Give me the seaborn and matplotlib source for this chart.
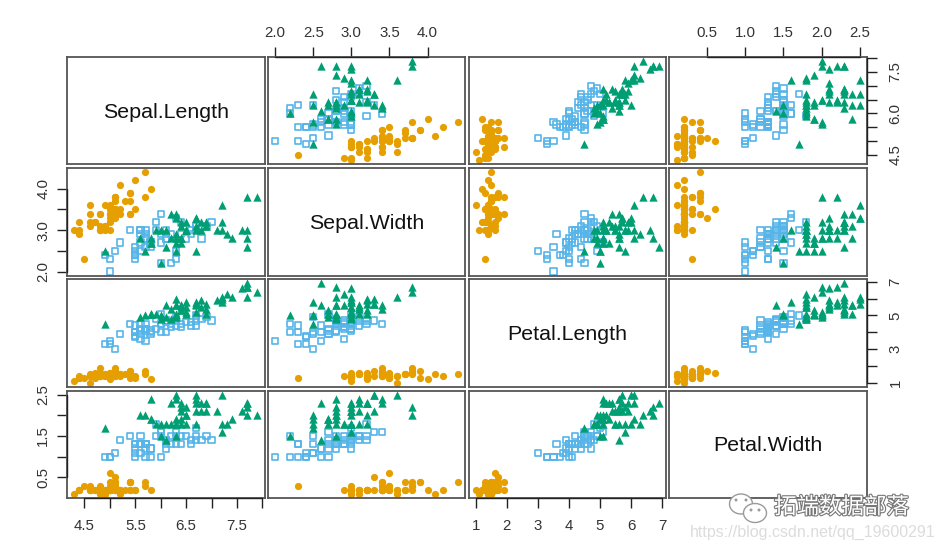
import matplotlib
matplotlib.use("Agg")
import matplotlib.pyplot as plt
import matplotlib.patheffects as pe
from matplotlib.patches import Ellipse
import pandas as pd
import seaborn as sns

# iris measurements, one list per variable and species
setosa_sl = [5.1,4.9,4.7,4.6,5.0,5.4,4.6,5.0,4.4,4.9,5.4,4.8,4.8,4.3,5.8,5.7,5.4,5.1,5.7,5.1,5.4,5.1,4.6,5.1,4.8,5.0,5.0,5.2,5.2,4.7,4.8,5.4,5.2,5.5,4.9,5.0,5.5,4.9,4.4,5.1,5.0,4.5,4.4,5.0,5.1,4.8,5.1,4.6,5.3,5.0]
setosa_sw = [3.5,3.0,3.2,3.1,3.6,3.9,3.4,3.4,2.9,3.1,3.7,3.4,3.0,3.0,4.0,4.4,3.9,3.5,3.8,3.8,3.4,3.7,3.6,3.3,3.4,3.0,3.4,3.5,3.4,3.2,3.1,3.4,4.1,4.2,3.1,3.2,3.5,3.6,3.0,3.4,3.5,2.3,3.2,3.5,3.8,3.0,3.8,3.2,3.7,3.3]
setosa_pl = [1.4,1.4,1.3,1.5,1.4,1.7,1.4,1.5,1.4,1.5,1.5,1.6,1.4,1.1,1.2,1.5,1.3,1.4,1.7,1.5,1.7,1.5,1.0,1.7,1.9,1.6,1.6,1.5,1.4,1.6,1.6,1.5,1.5,1.4,1.5,1.2,1.3,1.4,1.3,1.5,1.3,1.3,1.3,1.6,1.9,1.4,1.6,1.4,1.5,1.4]
setosa_pw = [.2,.2,.2,.2,.2,.4,.3,.2,.2,.1,.2,.2,.1,.1,.2,.4,.4,.3,.3,.3,.2,.4,.2,.5,.2,.2,.4,.2,.2,.2,.2,.4,.1,.2,.2,.2,.2,.1,.2,.2,.3,.3,.2,.6,.4,.3,.2,.2,.2,.2]

versicolor_sl = [7.0,6.4,6.9,5.5,6.5,5.7,6.3,4.9,6.6,5.2,5.0,5.9,6.0,6.1,5.6,6.7,5.6,5.8,6.2,5.6,5.9,6.1,6.3,6.1,6.4,6.6,6.8,6.7,6.0,5.7,5.5,5.5,5.8,6.0,5.4,6.0,6.7,6.3,5.6,5.5,5.5,6.1,5.8,5.0,5.6,5.7,5.7,6.2,5.1,5.7]
versicolor_sw = [3.2,3.2,3.1,2.3,2.8,2.8,3.3,2.4,2.9,2.7,2.0,3.0,2.2,2.9,2.9,3.1,3.0,2.7,2.2,2.5,3.2,2.8,2.5,2.8,2.9,3.0,2.8,3.0,2.9,2.6,2.4,2.4,2.7,2.7,3.0,3.4,3.1,2.3,3.0,2.5,2.6,3.0,2.6,2.3,2.7,3.0,2.9,2.9,2.5,2.8]
versicolor_pl = [4.7,4.5,4.9,4.0,4.6,4.5,4.7,3.3,4.6,3.9,3.5,4.2,4.0,4.7,3.6,4.4,4.5,4.1,4.5,3.9,4.8,4.0,4.9,4.7,4.3,4.4,4.8,5.0,4.5,3.5,3.8,3.7,3.9,5.1,4.5,4.5,4.7,4.4,4.1,4.0,4.4,4.6,4.0,3.3,4.2,4.2,4.2,4.3,3.0,4.1]
versicolor_pw = [1.4,1.5,1.5,1.3,1.5,1.3,1.6,1.0,1.3,1.4,1.0,1.5,1.0,1.4,1.3,1.4,1.5,1.0,1.5,1.1,1.8,1.3,1.5,1.2,1.3,1.4,1.4,1.7,1.5,1.0,1.1,1.0,1.2,1.6,1.5,1.6,1.5,1.3,1.3,1.3,1.2,1.4,1.2,1.0,1.3,1.2,1.3,1.3,1.1,1.3]

virginica_sl = [6.3,5.8,7.1,6.3,6.5,7.6,4.9,7.3,6.7,7.2,6.5,6.4,6.8,5.7,5.8,6.4,6.5,7.7,7.7,6.0,6.9,5.6,7.7,6.3,6.7,7.2,6.2,6.1,6.4,7.2,7.4,7.9,6.4,6.3,6.1,7.7,6.3,6.4,6.0,6.9,6.7,6.9,5.8,6.8,6.7,6.7,6.3,6.5,6.2,5.9]
virginica_sw = [3.3,2.7,3.0,2.9,3.0,3.0,2.5,2.9,2.5,3.6,3.2,2.7,3.0,2.5,2.8,3.2,3.0,3.8,2.6,2.2,3.2,2.8,2.8,2.7,3.3,3.2,2.8,3.0,2.8,3.0,2.8,3.8,2.8,2.8,2.6,3.0,3.4,3.1,3.0,3.1,3.1,3.1,2.7,3.2,3.3,3.0,2.5,3.0,3.4,3.0]
virginica_pl = [6.0,5.1,5.9,5.6,5.8,6.6,4.5,6.3,5.8,6.1,5.1,5.3,5.5,5.0,5.1,5.3,5.5,6.7,6.9,5.0,5.7,4.9,6.7,4.9,5.7,6.0,4.8,4.9,5.6,5.8,6.1,6.4,5.6,5.1,5.6,6.1,5.6,5.5,4.8,5.4,5.6,5.1,5.1,5.9,5.7,5.2,5.0,5.2,5.4,5.1]
virginica_pw = [2.5,1.9,2.1,1.8,2.2,2.1,1.7,1.8,1.8,2.5,2.0,1.9,2.1,2.0,2.4,2.3,1.8,2.2,2.3,1.5,2.3,2.0,2.0,1.8,2.1,1.8,1.8,1.8,2.1,1.6,1.9,2.0,2.2,1.5,1.4,2.3,2.4,1.8,1.8,2.1,2.4,2.3,1.9,2.3,2.5,2.3,1.9,2.0,2.3,1.8]

variables = ["Sepal.Length", "Sepal.Width", "Petal.Length", "Petal.Width"]
species = ["setosa", "versicolor", "virginica"]

# ticks for each variable, and the labels R kept on each side
ticks = {
    "Sepal.Length": [4.5, 5.0, 5.5, 6.0, 6.5, 7.0, 7.5, 8.0],
    "Sepal.Width": [2.0, 2.5, 3.0, 3.5, 4.0],
    "Petal.Length": [1, 2, 3, 4, 5, 6, 7],
    "Petal.Width": [0.5, 1.0, 1.5, 2.0, 2.5],
}
x_labels = {
    "Sepal.Length": ["4.5", "", "5.5", "", "6.5", "", "7.5", ""],
    "Sepal.Width": ["2.0", "2.5", "3.0", "3.5", "4.0"],
    "Petal.Length": ["1", "2", "3", "4", "5", "6", "7"],
    "Petal.Width": ["0.5", "1.0", "1.5", "2.0", "2.5"],
}
y_labels = {
    "Sepal.Length": ["4.5", "", "", "6.0", "", "", "7.5", ""],
    "Sepal.Width": ["2.0", "", "3.0", "", "4.0"],
    "Petal.Length": ["1", "", "3", "", "5", "", "7"],
    "Petal.Width": ["0.5", "", "1.5", "", "2.5"],
}

df = pd.DataFrame({
    "Sepal.Length": setosa_sl + versicolor_sl + virginica_sl,
    "Sepal.Width": setosa_sw + versicolor_sw + virginica_sw,
    "Petal.Length": setosa_pl + versicolor_pl + virginica_pl,
    "Petal.Width": setosa_pw + versicolor_pw + virginica_pw,
    "Species": [s for s in species for _ in range(50)],
})

sns.set_theme(style="white")
plt.rcParams["font.family"] = ["Liberation Sans", "Noto Sans CJK SC", "DejaVu Sans"]

W, H = 941, 550
DARK = "#333333"
EDGE = "#555555"

fig, axes = plt.subplots(4, 4, figsize=(W / 100, H / 100), dpi=100)
fig.subplots_adjust(left=67 / W, right=867 / W, top=1 - 57 / H, bottom=1 - 498 / H,
                    wspace=0.016, hspace=0.036)

styles = {
    "setosa": dict(color="#E69F00", marker="o", s=27, linewidth=0),
    "versicolor": dict(facecolor="none", edgecolor="#56B4E9", marker="s", s=20, linewidth=1.2),
    "virginica": dict(color="#009E73", marker="^", s=36, linewidth=0),
}


def axis_limits(name):
    # R's default 4% padding
    lo, hi = df[name].min(), df[name].max()
    pad = (hi - lo) * 0.04
    return lo - pad, hi + pad


for i, yvar in enumerate(variables):
    for j, xvar in enumerate(variables):
        ax = axes[i, j]
        if i == j:
            ax.text(0.5, 0.485, yvar, transform=ax.transAxes, ha="center", va="center",
                    fontsize=15.4, color="#111111")
        else:
            for name in species:
                sub = df[df["Species"] == name]
                sns.scatterplot(data=sub, x=xvar, y=yvar, ax=ax, legend=False, **styles[name])
        ax.set_xlim(axis_limits(xvar))
        ax.set_ylim(axis_limits(yvar))
        ax.set_xlabel("")
        ax.set_ylabel("")
        ax.set_xticks([])
        ax.set_yticks([])
        for spine in ax.spines.values():
            spine.set_visible(True)
            spine.set_color(EDGE)
            spine.set_linewidth(1.3)

        tick_style = dict(length=7, width=1.0, color="#222222", labelsize=10.8, labelcolor=DARK)
        # the axis line of R runs from the first to the last tick, on top of the box
        line_style = dict(color="#222222", linewidth=1.0, clip_on=False, zorder=5)
        if i == 3 and j % 2 == 0:
            ax.set_xticks(ticks[xvar], x_labels[xvar])
            ax.tick_params(axis="x", bottom=True, labelbottom=True, pad=8, **tick_style)
            ax.plot([ticks[xvar][0], ticks[xvar][-1]], [0, 0], transform=ax.get_xaxis_transform(), **line_style)
        if i == 0 and j % 2 == 1:
            ax.set_xticks(ticks[xvar], x_labels[xvar])
            ax.tick_params(axis="x", top=True, labeltop=True, bottom=False, labelbottom=False, pad=5.5, **tick_style)
            ax.plot([ticks[xvar][0], ticks[xvar][-1]], [1, 1], transform=ax.get_xaxis_transform(), **line_style)
        if j == 0 and i % 2 == 1:
            ax.set_yticks(ticks[yvar], y_labels[yvar])
            ax.tick_params(axis="y", left=True, labelleft=True, pad=5, **tick_style)
            plt.setp(ax.get_yticklabels(), rotation=90, va="center")
            ax.plot([0, 0], [ticks[yvar][0], ticks[yvar][-1]], transform=ax.get_yaxis_transform(), **line_style)
        if j == 3 and i % 2 == 0:
            ax.set_yticks(ticks[yvar], y_labels[yvar])
            ax.tick_params(axis="y", right=True, labelright=True, left=False, labelleft=False, pad=8.5, **tick_style)
            plt.setp(ax.get_yticklabels(), rotation=90, va="center")
            ax.plot([1, 1], [ticks[yvar][0], ticks[yvar][-1]], transform=ax.get_yaxis_transform(), **line_style)


def fx(px):
    return px / W


def fy(px):
    return 1 - px / H


# watermark: wechat bubbles, blog name, url
icon_edge = "#9a9a9a"
fig.add_artist(Ellipse((fx(741), fy(504)), 23 / W, 20 / H, transform=fig.transFigure,
                       facecolor="white", edgecolor=icon_edge, linewidth=1.0))
fig.add_artist(Ellipse((fx(755), fy(513)), 23 / W, 19 / H, transform=fig.transFigure,
                       facecolor="white", edgecolor=icon_edge, linewidth=1.0))
for ex, ey in [(736, 500), (746, 500), (751, 510), (759, 510)]:
    fig.add_artist(Ellipse((fx(ex), fy(ey)), 3 / W, 3 / H, transform=fig.transFigure,
                           facecolor=icon_edge, edgecolor="none"))

fig.text(fx(774), fy(508), "拓端数据部落", fontsize=16.2, color="white", ha="left", va="center",
         path_effects=[pe.withStroke(linewidth=1.6, foreground="#777777")])
fig.text(fx(690), fy(532), "https://blog.csdn.net/qq_19600291", fontsize=11.5, color="#dcdcdc",
         ha="left", va="center")

fig.savefig("out.png", dpi=100, facecolor="white")
plt.close(fig)
